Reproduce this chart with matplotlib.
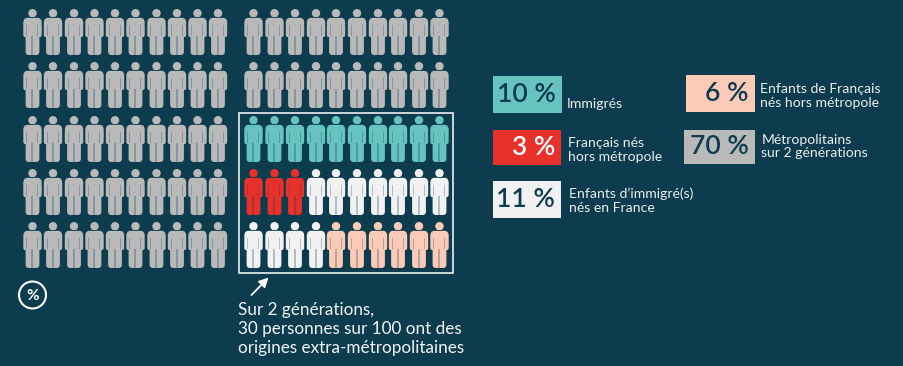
import matplotlib
matplotlib.use("Agg")
import matplotlib.pyplot as plt
from matplotlib.path import Path
from matplotlib.patches import Rectangle, Circle

plt.rcParams['font.family'] = ['Lato', 'DejaVu Sans']

# Data
categories = ["Métropolitains\nsur 2 générations", "Immigrés", "Français nés\nhors métropole",
              "Enfants d’immigré(s)\nnés en France", "Enfants de Français\nnés hors métropole"]
shares = [70, 10, 3, 11, 6]
colors = ["#B9B9B9", "#66C3BF", "#E8312B", "#F1F1F1", "#FBCBB8"]
text_colors = ["#0C3C4E", "#0C3C4E", "#FFFFFF", "#0C3C4E", "#0C3C4E"]
BG = "#0C3C4E"

col_x_left = [32.5, 53, 74, 94.5, 115, 135.5, 156.5, 177, 197.5, 218]
col_x_right = [253.5, 274.5, 295, 316, 336, 357, 378, 398, 419, 439.5]
row_y = [32, 85, 139, 192, 245]

# Person marker (pixels, y up, centred)
def person_path():
    c = Path.circle((0, 18.8), 4.2)
    verts = list(c.vertices)
    codes = list(c.codes)
    L, M, Q = Path.LINETO, Path.MOVETO, Path.CURVE3
    seq = [
        (M, (-5, 14.2)), (L, (5, 14.2)),
        (Q, (9.2, 14.2)), (Q, (9.2, 9)),
        (L, (9.2, -2.5)), (Q, (9.2, -5)), (Q, (7.8, -5)),
        (L, (6.9, -5)), (L, (6.9, -19.5)),
        (Q, (6.9, -23)), (Q, (3.5, -23)),
        (L, (-3.5, -23)), (Q, (-6.9, -23)), (Q, (-6.9, -19.5)),
        (L, (-6.9, -5)), (L, (-7.8, -5)),
        (Q, (-9.2, -5)), (Q, (-9.2, -2.5)),
        (L, (-9.2, 9)), (Q, (-9.2, 14.2)), (Q, (-5, 14.2)),
    ]
    for code, v in seq:
        codes.append(code)
        verts.append(v)
    codes.append(Path.CLOSEPOLY)
    verts.append((-5, 14.2))
    return Path(verts, codes)

def detail_path():
    verts = [(0, 23), (0, 23), (0, -23), (0, -23)]
    codes = [Path.MOVETO, Path.LINETO, Path.MOVETO, Path.LINETO]
    for r in [[(-0.6, -23), (0.6, -23), (0.6, -4), (-0.6, -4)],
              [(-6.3, -4.5), (-5.3, -4.5), (-5.3, 7), (-6.3, 7)],
              [(5.3, -4.5), (6.3, -4.5), (6.3, 7), (5.3, 7)]]:
        verts += r + [r[0]]
        codes += [Path.MOVETO, Path.LINETO, Path.LINETO, Path.LINETO, Path.CLOSEPOLY]
    return Path(verts, codes)

fig = plt.figure(figsize=(9.04, 3.66), dpi=100, facecolor=BG)
ax = fig.add_axes([0, 0, 1, 1])
ax.set_xlim(0, 904); ax.set_ylim(366, 0); ax.axis("off")

xs, ys = [], []
for y in row_y:
    for x in col_x_left:
        xs.append(x); ys.append(y)
for y in row_y:
    for x in col_x_right:
        xs.append(x); ys.append(y)
person_cols = []
for c, n in zip(colors, shares):
    person_cols += [c] * n

S = (46 * 0.72) ** 2
ax.scatter(xs, ys, s=S, marker=person_path(), c=person_cols, linewidths=0)
ax.scatter(xs, ys, s=S, marker=detail_path(), c="#0C3C4E", alpha=0.28, linewidths=0)

# Frame, arrow, note
ax.add_patch(Rectangle((239.5, 112.7), 214, 160.6, fill=False, ec="white", lw=1.1))
ax.annotate("", xy=(268.5, 277.5), xytext=(251.5, 295),
            arrowprops=dict(arrowstyle="-|>,head_width=0.28,head_length=0.55", color="white", lw=1.3,
                            shrinkA=0, shrinkB=0))
ax.text(238, 329, "Sur 2 générations,\n30 personnes sur 100 ont des\norigines extra-métropolitaines",
        color="#F4F4F4", fontsize=12.3, va="center", ha="left", linespacing=1.26)

ax.add_patch(Circle((32.5, 295), 13.5, fill=False, ec="white", lw=1.5))
ax.text(32.5, 295.5, "%", color="white", fontsize=11, fontweight="bold", ha="center", va="center")

# Legend boxes  (category index, x0, x1, y0, y1, label x, label y)
legend = [
    (1, 492.7, 562, 75.7, 112.7, 567, 103.5),
    (2, 492.7, 561.5, 130, 165, 568.5, 150),
    (3, 492.7, 561, 180.7, 218, 569.5, 200.5),
    (4, 685.7, 755, 75, 111.5, 760.5, 96),
    (0, 684.5, 755, 130, 164, 761.5, 146.5),
]
for i, x0, x1, y0, y1, lx, ly in legend:
    ax.add_patch(Rectangle((x0, y0), x1 - x0, y1 - y0, fc=colors[i], ec="none"))
    ax.text(x1 - 6, (y0 + y1) / 2, f"{shares[i]} %", color=text_colors[i], fontsize=19,
            ha="right", va="center", fontweight="semibold")
    ax.text(lx, ly, categories[i], color="#EDEDED", fontsize=10.1, ha="left", va="center", linespacing=1.15)

fig.savefig("out.png", dpi=100, facecolor=BG)
